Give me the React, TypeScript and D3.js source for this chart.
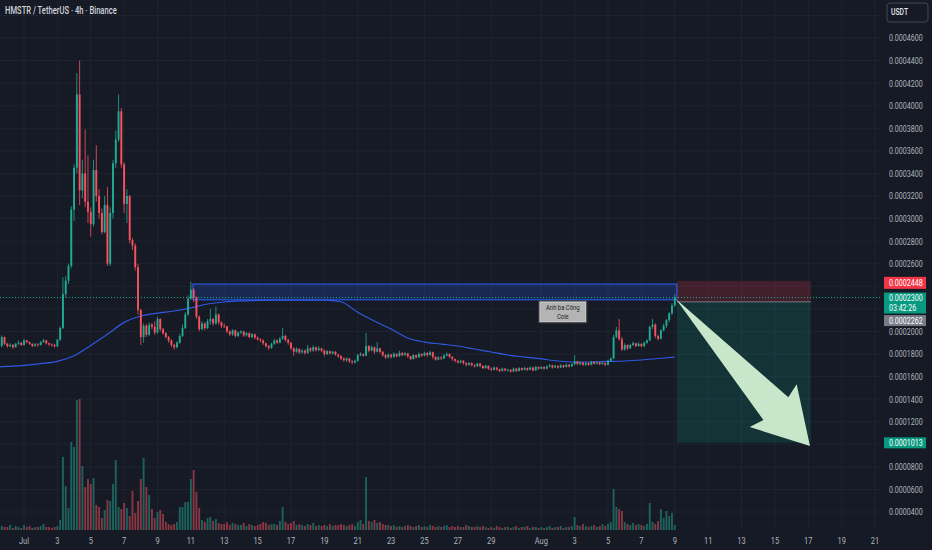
import React from 'react';
import * as d3 from 'd3';

// HMSTR / USDT 4h candles. Prices are in units of 1e-7 USDT (1850 -> 0.0001850)
const firstOpen = 1870;

const closes = [
  1950, 1890, // Jun 29 (16h, 20h)
  1870, 1880, 1860, 1890, 1900, 1880, // Jun 30
  1920, 1905, 1890, 1870, 1885, 1880, // Jul 1
  1905, 1920, 1895, 1885, 1880, 1870, // Jul 2
  1925, 2030, 2330, 2450, 2580, 3080, // Jul 3
  3450, 4100, 3250, 3400, 3150, 3060, // Jul 4
  2950, 3430, 3200, 3050, 2880, 3120, // Jul 5
  2600, 3050, 3490, 3700, 3950, 3480, // Jul 6
  3130, 3200, 2810, 2760, 2570, 2190, // Jul 7
  1950, 2050, 1970, 2060, 2040, 1990, // Jul 8
  2110, 2020, 1985, 1950, 1920, 1880, // Jul 9
  1860, 1900, 1960, 2030, 2150, 2290, // Jul 10
  2370, 2300, 2130, 2020, 2070, 2030, // Jul 11
  2090, 2110, 2070, 2150, 2080, 2050, // Jul 12
  2045, 2000, 1975, 2010, 1960, 1990, // Jul 13
  2000, 1965, 1985, 1950, 1975, 1945, // Jul 14
  1930, 1920, 1895, 1870, 1855, 1890, // Jul 15
  1920, 1900, 1935, 1960, 1925, 1900, // Jul 16
  1850, 1820, 1845, 1815, 1830, 1810, // Jul 17
  1850, 1830, 1860, 1835, 1850, 1830, // Jul 18
  1800, 1825, 1805, 1820, 1795, 1780, // Jul 19
  1760, 1745, 1760, 1735, 1725, 1740, // Jul 20
  1790, 1800, 1785, 1870, 1830, 1860, // Jul 21
  1820, 1850, 1820, 1790, 1770, 1795, // Jul 22
  1775, 1800, 1780, 1810, 1790, 1805, // Jul 23
  1780, 1755, 1790, 1770, 1800, 1785, // Jul 24
  1810, 1790, 1815, 1775, 1750, 1770, // Jul 25
  1760, 1785, 1800, 1775, 1755, 1740, // Jul 26
  1725, 1740, 1720, 1705, 1720, 1700, // Jul 27
  1690, 1715, 1695, 1675, 1695, 1670, // Jul 28
  1660, 1680, 1665, 1650, 1670, 1655, // Jul 29
  1660, 1645, 1670, 1650, 1675, 1660, // Jul 30
  1675, 1660, 1680, 1655, 1685, 1670, // Jul 31
  1685, 1670, 1690, 1700, 1680, 1695, // Aug 1
  1680, 1700, 1685, 1705, 1690, 1710, // Aug 2
  1735, 1710, 1725, 1705, 1720, 1705, // Aug 3
  1730, 1715, 1725, 1710, 1720, 1705, // Aug 4
  1740, 1760, 1950, 2010, 1930, 1840, // Aug 5
  1880, 1850, 1880, 1895, 1870, 1890, // Aug 6
  1870, 1900, 1920, 2040, 2060, 1960, // Aug 7
  1935, 2010, 2050, 2100, 2160, 2230, // Aug 8
  2300, // Aug 9
];

const highs = [
  1965, 1955,
  1900, 1895, 1890, 1900, 1920, 1905,
  1935, 1925, 1910, 1895, 1900, 1895,
  1915, 1935, 1925, 1900, 1895, 1890,
  1935, 2045, 2480, 2490, 2600, 3110,
  3480, 4290, 4400, 3520, 3790, 3560,
  3100, 3520, 3650, 3260, 3090, 3200,
  3280, 3100, 3520, 3780, 4100, 3980,
  3500, 3260, 3210, 2830, 2780, 2600,
  2200, 2070, 2065, 2080, 2075, 2090,
  2130, 2115, 2030, 1995, 1960, 1930,
  1890, 1915, 1980, 2060, 2170, 2320,
  2440, 2385, 2310, 2140, 2090, 2080,
  2110, 2200, 2120, 2220, 2160, 2090,
  2070, 2050, 2010, 2020, 2015, 2000,
  2010, 2005, 1995, 1990, 1985, 1980,
  1955, 1940, 1930, 1900, 1880, 1900,
  1935, 1930, 1950, 2030, 1970, 1935,
  1905, 1860, 1860, 1850, 1845, 1840,
  1880, 1860, 1875, 1865, 1870, 1855,
  1840, 1835, 1830, 1830, 1825, 1800,
  1790, 1770, 1770, 1765, 1745, 1750,
  1800, 1815, 1805, 1985, 1880, 1875,
  1865, 1905, 1855, 1825, 1800, 1805,
  1800, 1815, 1805, 1830, 1815, 1820,
  1810, 1785, 1800, 1795, 1815, 1805,
  1820, 1815, 1830, 1820, 1780, 1780,
  1780, 1800, 1815, 1805, 1780, 1760,
  1745, 1750, 1745, 1725, 1730, 1725,
  1710, 1720, 1720, 1700, 1705, 1700,
  1680, 1690, 1685, 1670, 1680, 1675,
  1670, 1665, 1680, 1675, 1685, 1680,
  1685, 1680, 1690, 1685, 1695, 1690,
  1695, 1690, 1700, 1710, 1705, 1705,
  1700, 1710, 1705, 1715, 1710, 1720,
  1790, 1740, 1735, 1730, 1730, 1725,
  1740, 1735, 1735, 1730, 1735, 1725,
  1750, 1770, 1970, 2040, 2110, 1950,
  1895, 1885, 1890, 1910, 1900, 1905,
  1895, 1910, 1930, 2050, 2110, 2070,
  1970, 2020, 2070, 2110, 2170, 2250,
  2330,
];

const lows = [
  1860, 1880,
  1855, 1860, 1845, 1855, 1880, 1870,
  1875, 1895, 1880, 1860, 1865, 1865,
  1875, 1900, 1885, 1870, 1865, 1855,
  1860, 1915, 2020, 2300, 2420, 2560,
  2980, 3400, 3120, 3180, 3100, 2960,
  2840, 2930, 3150, 3000, 2860, 2870,
  2580, 2580, 3000, 3450, 3680, 3450,
  3050, 2960, 2780, 2720, 2540, 2150,
  1880, 1900, 1950, 1960, 2020, 1970,
  1980, 2000, 1970, 1940, 1900, 1860,
  1840, 1850, 1890, 1950, 2020, 2140,
  2280, 2260, 2110, 2000, 2010, 2010,
  2020, 2060, 2050, 2060, 2060, 2030,
  2030, 1985, 1960, 1960, 1945, 1950,
  1975, 1950, 1955, 1940, 1940, 1930,
  1920, 1905, 1880, 1855, 1835, 1845,
  1880, 1890, 1895, 1925, 1910, 1880,
  1835, 1785, 1810, 1800, 1800, 1795,
  1800, 1815, 1820, 1820, 1825, 1815,
  1780, 1790, 1795, 1795, 1785, 1765,
  1745, 1730, 1730, 1720, 1710, 1715,
  1730, 1780, 1775, 1780, 1815, 1825,
  1800, 1815, 1805, 1775, 1755, 1760,
  1760, 1765, 1770, 1775, 1780, 1785,
  1765, 1745, 1750, 1760, 1765, 1775,
  1780, 1775, 1785, 1755, 1740, 1745,
  1745, 1755, 1780, 1765, 1740, 1725,
  1715, 1715, 1705, 1690, 1695, 1690,
  1680, 1685, 1680, 1665, 1670, 1660,
  1650, 1655, 1650, 1640, 1645, 1645,
  1645, 1635, 1640, 1640, 1645, 1650,
  1655, 1650, 1655, 1645, 1650, 1660,
  1665, 1660, 1665, 1680, 1670, 1675,
  1670, 1675, 1675, 1680, 1680, 1685,
  1700, 1700, 1700, 1695, 1695, 1695,
  1700, 1705, 1705, 1700, 1705, 1695,
  1700, 1730, 1755, 1940, 1920, 1825,
  1830, 1835, 1845, 1870, 1860, 1865,
  1860, 1860, 1890, 1915, 2020, 1940,
  1920, 1930, 2000, 2030, 2080, 2145,
  2215,
];

// volume, billions of HMSTR (approx.)
const volumes = [
  4, 3,
  3, 5, 2, 4, 3, 2,
  5, 3, 4, 2, 3, 3,
  4, 6, 3, 3, 2, 3,
  4, 10, 73, 44, 22, 88,
  83, 130, 131, 64, 43, 51,
  46, 52, 25, 23, 12, 20,
  30, 29, 46, 70, 23, 21,
  27, 22, 14, 39, 17, 29,
  51, 72, 43, 35, 21, 12,
  18, 20, 16, 8, 6, 5,
  6, 8, 23, 23, 28, 28,
  51, 60, 38, 22, 10, 8,
  12, 13, 9, 11, 7, 6,
  6, 8, 5, 7, 6, 5,
  5, 7, 4, 6, 5, 4,
  5, 6, 8, 7, 5, 6,
  6, 5, 9, 23, 8, 6,
  7, 9, 5, 6, 5, 4,
  6, 5, 7, 4, 5, 4,
  5, 4, 6, 4, 5, 5,
  6, 5, 4, 5, 6, 4,
  8, 10, 6, 53, 9, 8,
  10, 7, 8, 6, 5, 5,
  4, 5, 3, 4, 3, 4,
  5, 4, 3, 4, 5, 3,
  4, 3, 5, 4, 3, 4,
  3, 4, 5, 3, 4, 3,
  4, 3, 3, 5, 4, 3,
  3, 4, 3, 4, 3, 2,
  3, 2, 4, 3, 2, 3,
  3, 2, 3, 4, 2, 3,
  3, 4, 2, 3, 3, 2,
  3, 2, 3, 4, 2, 3,
  3, 4, 2, 3, 3, 4,
  13, 5, 4, 6, 4, 3,
  4, 5, 3, 4, 6, 4,
  6, 8, 41, 23, 21, 19,
  8, 6, 5, 7, 5, 6,
  5, 4, 6, 27, 8, 6,
  9, 21, 12, 19, 14, 17,
  5,
];

// moving average, one value per day from Jun 29 00:00 to Aug 9 00:00
const maValues = [
  1680, 1690, 1700, 1715, 1735, 1785, 1876, 1975, 2080, 2137, 2163, 2181, 2208, 2243,
  2261, 2270, 2274, 2278, 2278, 2278, 2278, 2263, 2170, 2092, 2021, 1942, 1906, 1888,
  1871, 1844, 1818, 1791, 1773, 1756, 1738, 1729, 1729, 1734, 1738, 1747, 1760, 1773,
];

const priceTicks = [
  400, 600, 800, 1000, 1200, 1400, 1600, 1800, 2000, 2200, 2400, 2600,
  2800, 3000, 3200, 3400, 3600, 3800, 4000, 4200, 4400, 4600, 4800,
];

const dateTicks = [
  '2025-07-01', '2025-07-03', '2025-07-05', '2025-07-07', '2025-07-09', '2025-07-11',
  '2025-07-13', '2025-07-15', '2025-07-17', '2025-07-19', '2025-07-21', '2025-07-23',
  '2025-07-25', '2025-07-27', '2025-07-29', '2025-08-01', '2025-08-03', '2025-08-05',
  '2025-08-07', '2025-08-09', '2025-08-11', '2025-08-13', '2025-08-15', '2025-08-17',
  '2025-08-19', '2025-08-21',
];

// drawings, anchored in time / price
const lastPrice = 2300;
const countdown = '03:42:26';
const zoneFrom = '2025-07-11T03:00Z';
const zoneTo = '2025-08-09T03:00Z';
const zoneTop = 2420;
const zoneBottom = 2280;
const posFrom = '2025-08-09T03:00Z';
const posTo = '2025-08-17T03:40Z';
const stopPrice = 2448;
const entryPrice = 2262;
const targetPrice = 1013;
const arrowFrom: [string, number] = ['2025-08-09T02:00Z', 2285];
const arrowTo: [string, number] = ['2025-08-17T02:30Z', 985];
const noteAt = '2025-08-02T07:00Z';
const notePrice = 2262;
const noteLines = ['Anh ba Công', 'Cole'];

const W = 932;
const H = 550;
const PANE_R = 880;
const PANE_B = 530;
const BG = '#161a25';
const GRID = '#1f2330';
const UP = '#22ab94';
const DOWN = '#f7525f';
const AXIS_TXT = '#b2b5be';
const FONT = 'Roboto, "Liberation Sans", sans-serif';
const SX = 0.76; // horizontal squeeze of glyphs

const fmt = (v: number) => (v / 1e7).toFixed(7);

const Label = ({ x, y, size = 9, fill = AXIS_TXT, anchor = 'start', weight = 400, children }: any) => (
  <text
    transform={`translate(${x},${y}) scale(${SX},1)`}
    fontSize={size}
    fill={fill}
    textAnchor={anchor}
    dominantBaseline="central"
    fontFamily={FONT}
    fontWeight={weight}
  >
    {children}
  </text>
);

const App = () => {
  const HOUR = 3600 * 1000;
  const start = Date.UTC(2025, 5, 29, 16);
  const candles = closes.map((c, i) => ({
    t: new Date(start + i * 4 * HOUR),
    o: i === 0 ? firstOpen : closes[i - 1],
    h: highs[i],
    l: lows[i],
    c,
    v: volumes[i],
  }));
  const maStart = Date.UTC(2025, 5, 29);
  const ma = maValues.map((v, i) => ({ t: new Date(maStart + i * 24 * HOUR), v }));

  const x = d3.scaleUtc()
    .domain([new Date(Date.UTC(2025, 6, 1)), new Date(Date.UTC(2025, 7, 21))])
    .range([24, 875]);
  const y = d3.scaleLinear().domain([400, 4600]).range([512, 38]);
  const vy = d3.scaleLinear().domain([0, d3.max(volumes) as number]).range([PANE_B, 399]);

  const maLine = d3.line<{ t: Date; v: number }>()
    .x((d) => x(d.t))
    .y((d) => y(d.v))
    .curve(d3.curveMonotoneX);

  const tx = (s: string) => x(new Date(s));
  const bw = 1.9;

  // arrow marker geometry
  const A = [tx(arrowFrom[0]), y(arrowFrom[1])];
  const B = [tx(arrowTo[0]), y(arrowTo[1])];
  const L = Math.hypot(B[0] - A[0], B[1] - A[1]);
  const ux = (B[0] - A[0]) / L;
  const uy = (B[1] - A[1]) / L;
  const nx = -uy;
  const ny = ux;
  const sBase = L * 0.255;
  const hBase = L * 0.275;
  const sw = L * 0.085;
  const hw = L * 0.16;
  const arrowPts = [
    A,
    [B[0] - ux * sBase + nx * sw, B[1] - uy * sBase + ny * sw],
    [B[0] - ux * hBase + nx * hw, B[1] - uy * hBase + ny * hw],
    B,
    [B[0] - ux * hBase - nx * hw, B[1] - uy * hBase - ny * hw],
    [B[0] - ux * sBase - nx * sw, B[1] - uy * sBase - ny * sw],
  ];

  const px1 = tx(posFrom);
  const px2 = tx(posTo);
  const noteX = tx(noteAt);
  const noteY = y(notePrice);

  const tagX = 884;
  const tagW = 42;
  const stopMid = y(stopPrice) + 2;
  const tealTop = y(lastPrice) - 5;
  const tealH = 21;
  const grayTop = tealTop + tealH + 1.5;
  const targetMid = y(targetPrice);

  // vertical bands of the price scale that are covered by tags / the currency box
  const covered: [number, number][] = [
    [2, 23],
    [stopMid - 6, stopMid + 6],
    [tealTop, grayTop + 11],
    [targetMid - 5.5, targetMid + 5.5],
  ];
  const visibleTick = (p: number) =>
    !covered.some(([a, b]) => y(p) + 4 > a && y(p) - 4 < b);

  return (
    <svg width={W} height={H} style={{ position: 'absolute', left: 0, top: 0 }}>
      <defs>
        <clipPath id="pane">
          <rect x={0} y={0} width={PANE_R} height={PANE_B} />
        </clipPath>
      </defs>
      <rect width={W} height={H} fill={BG} />

      {/* grid */}
      <g clipPath="url(#pane)">
        {priceTicks.map((p) => (
          <line key={p} x1={0} x2={PANE_R} y1={y(p)} y2={y(p)} stroke={GRID} />
        ))}
        {dateTicks.map((d) => (
          <line key={d} x1={tx(d)} x2={tx(d)} y1={0} y2={PANE_B} stroke={GRID} />
        ))}
      </g>

      <g clipPath="url(#pane)">
        {/* volume */}
        {candles.map((d, i) => (
          <rect
            key={'v' + i}
            x={x(d.t) - bw / 2}
            width={bw}
            y={vy(d.v)}
            height={PANE_B - vy(d.v)}
            fill={d.c >= d.o ? UP : DOWN}
            opacity={0.5}
          />
        ))}

        {/* resistance zone */}
        <rect
          x={tx(zoneFrom)}
          width={tx(zoneTo) - tx(zoneFrom)}
          y={y(zoneTop)}
          height={y(zoneBottom) - y(zoneTop)}
          fill="rgba(41,98,255,0.2)"
          stroke="#2962ff"
          strokeWidth={1}
        />

        {/* moving average */}
        <path d={maLine(ma) || ''} fill="none" stroke="#2f58e0" strokeWidth={1.2} />

        {/* candles */}
        {candles.map((d, i) => {
          const col = d.c >= d.o ? UP : DOWN;
          const cx = x(d.t);
          const top = y(Math.max(d.o, d.c));
          const bot = y(Math.min(d.o, d.c));
          return (
            <g key={'c' + i}>
              <line x1={cx} x2={cx} y1={y(d.h)} y2={y(d.l)} stroke={col} strokeWidth={0.8} />
              <rect x={cx - bw / 2} width={bw} y={top} height={Math.max(0.8, bot - top)} fill={col} />
            </g>
          );
        })}

        {/* short position tool */}
        <rect x={px1} width={px2 - px1} y={y(stopPrice)} height={y(entryPrice) - y(stopPrice)} fill="rgba(242,54,69,0.2)" />
        <rect x={px1} width={px2 - px1} y={y(entryPrice)} height={y(targetPrice) - y(entryPrice)} fill="rgba(8,153,129,0.2)" />
        <line x1={px1} x2={px2} y1={y(entryPrice)} y2={y(entryPrice)} stroke="#787b86" strokeWidth={1} />

        {/* last price line */}
        <line x1={0} x2={PANE_R} y1={y(lastPrice)} y2={y(lastPrice)} stroke={UP} strokeDasharray="1 2" strokeWidth={1} />

        {/* arrow */}
        <polygon points={arrowPts.map((p) => p.join(',')).join(' ')} fill="#c8e6c9" />

        {/* note */}
        <rect x={noteX - 23} y={noteY} width={46} height={20} fill="#b4b4b4" stroke="#d8d8d8" strokeWidth={1} />
        <rect x={noteX - 24} y={noteY - 1} width={48} height={22} fill="none" stroke="#4a4a4a" strokeWidth={0.8} />
        {noteLines.map((t, i) => (
          <Label key={t} x={noteX} y={noteY + 6 + i * 8.5} size={7.8} fill="#1e1e1e" anchor="middle">
            {t}
          </Label>
        ))}
      </g>

      {/* header */}
      <Label x={5} y={11} size={10} fill="#d1d4dc" weight={500}>
        HMSTR / TetherUS · 4h · Binance
      </Label>

      {/* price axis */}
      {priceTicks.filter(visibleTick).map((p) => (
        <Label key={p} x={889} y={y(p)} size={9.3}>
          {fmt(p)}
        </Label>
      ))}

      {/* time axis */}
      {dateTicks.map((d) => {
        const dt = new Date(d);
        const lab = dt.getUTCDate() === 1 ? d3.utcFormat('%b')(dt) : d3.utcFormat('%-d')(dt);
        return (
          <Label key={d} x={tx(d)} y={541} size={9.8} anchor="middle">
            {lab}
          </Label>
        );
      })}

      {/* currency box */}
      <rect x={887} y={3} width={41} height={19} rx={3} fill={BG} stroke="#434651" />
      <Label x={891} y={12.5} size={9} fill="#e0e3eb" weight={500}>
        USDT
      </Label>

      {/* price tags */}
      <rect x={tagX} y={stopMid - 6} width={tagW} height={12} fill="#f23645" />
      <Label x={889} y={stopMid} size={9.3} fill="#ffffff">
        {fmt(stopPrice)}
      </Label>

      <rect x={tagX} y={tealTop} width={tagW} height={tealH} fill="#089981" />
      <Label x={889} y={tealTop + 5.5} size={9.3} fill="#ffffff">
        {fmt(lastPrice)}
      </Label>
      <Label x={889} y={tealTop + 15} size={9.3} fill="#ffffff">
        {countdown}
      </Label>

      <rect x={tagX} y={grayTop} width={tagW} height={11} fill="#787b86" />
      <Label x={889} y={grayTop + 5.5} size={9.3} fill="#ffffff">
        {fmt(entryPrice)}
      </Label>

      <rect x={tagX} y={targetMid - 5.5} width={tagW} height={11} fill="#089981" />
      <Label x={889} y={targetMid} size={9.3} fill="#ffffff">
        {fmt(targetPrice)}
      </Label>
    </svg>
  );
};

export default App;
